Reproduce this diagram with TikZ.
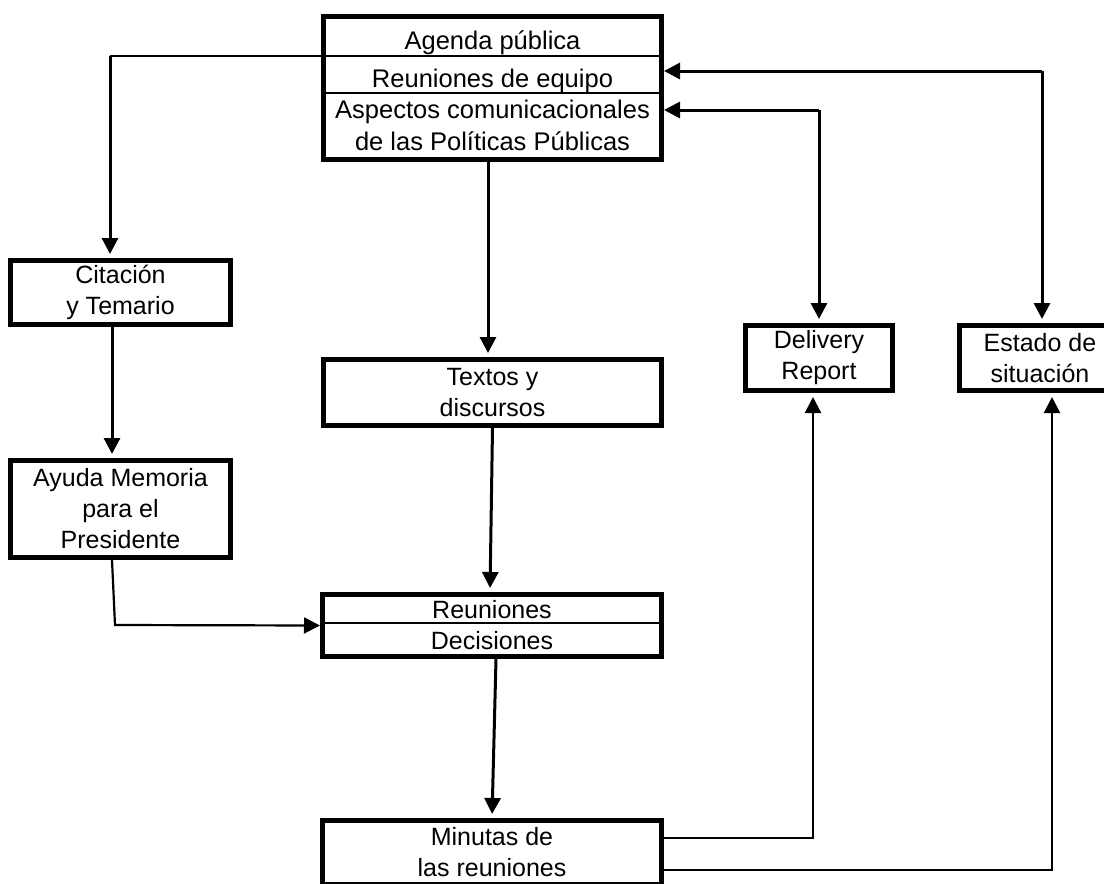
\documentclass[tikz,border=0pt]{standalone}
\usepackage{fontspec}
\setmainfont{Liberation Sans}
\usetikzlibrary{arrows.meta}
\begin{document}
\begin{tikzpicture}[x=1pt,y=-1pt,
  box/.style={draw, line width=5pt, inner sep=0pt, align=center, font=\fontsize{25}{31}\selectfont},
  txt/.style={inner sep=0pt, anchor=base, font=\fontsize{25.5}{31}\selectfont},
  conn/.style={line width=3pt, -{Triangle[width=16pt,length=16pt]}},
  thinconn/.style={line width=2.2pt, -{Triangle[width=16pt,length=16pt]}},
  gap/.style={shorten >=4pt},
  divider/.style={line width=2.8pt}]
\clip (0,0) rectangle (1104,884);
% boxes
\node[box, minimum width=338pt, minimum height=143pt] (top) at (492.5,88) {};
\node[txt] (t1) at (492.5,49.5) {Agenda pública};
\node[txt] (t2) at (492.5,87) {Reuniones de equipo};
\node[txt] (t3) at (492.5,118) {Aspectos comunicacionales};
\node[txt] (t4) at (492.5,150) {de las Políticas Públicas};
\draw[divider] (top.west |- 0,56) -- (top.east |- 0,56);
\draw[divider] (top.west |- 0,93) -- (top.east |- 0,93);

\node[box, minimum width=220pt, minimum height=64pt] (cit) at (120.5,292.5) {Citación\\y Temario};
\node[box, minimum width=220pt, minimum height=97pt] (ayu) at (120.5,509) {Ayuda Memoria\\para el\\Presidente};
\node[box, minimum width=338pt, minimum height=66pt] (tex) at (492.5,392.5) {Textos y\\discursos};
\node[box, minimum width=339pt, minimum height=62pt] (reu) at (492,625.5) {Reuniones\\Decisiones};
\draw[divider] (reu.west |- 0,623) -- (reu.east |- 0,623);
\node[box, minimum width=339pt, minimum height=64pt] (min) at (492,852.5) {Minutas de\\las reuniones};
\node[box, minimum width=147pt, minimum height=65pt] (del) at (819,358) {Delivery\\Report};
\node[box, minimum width=161pt, minimum height=65pt] (est) at (1040,358) {Estado de\\situación};

% connectors
\coordinate (c1) at (110,56);
\draw[line width=2.2pt] (top.west |- c1) -- (c1);
\draw[conn,gap] (c1) -- (c1 |- cit.north);
\draw[conn,gap] (112,0 |- cit.south) -- (112,0 |- ayu.north);
\coordinate (a1) at (115,625);
\draw[thinconn] (112,0 |- ayu.south) -- (a1) -- (reu.west);
\draw[conn,gap] (488,0 |- top.south) -- (488,0 |- tex.north);
\draw[conn,gap] (tex.south) -- ([xshift=-2pt]reu.north);
\draw[conn,gap] ([xshift=4pt]reu.south) -- (min.north);

\coordinate (e1) at (1042,71);
\draw[conn] (e1) -- (top.east |- e1);
\draw[conn,gap] (e1) -- (e1 |- est.north);
\coordinate (d1) at (819,110);
\draw[conn] (d1) -- (top.east |- d1);
\draw[conn,gap] (d1) -- (d1 |- del.north);

\coordinate (m1) at (813,838);
\draw[thinconn,gap] (min.east |- m1) -- (m1) -- (m1 |- del.south);
\coordinate (m2) at (1052,870);
\draw[thinconn,gap] (min.east |- m2) -- (m2) -- (m2 |- est.south);
\end{tikzpicture}
\end{document}
